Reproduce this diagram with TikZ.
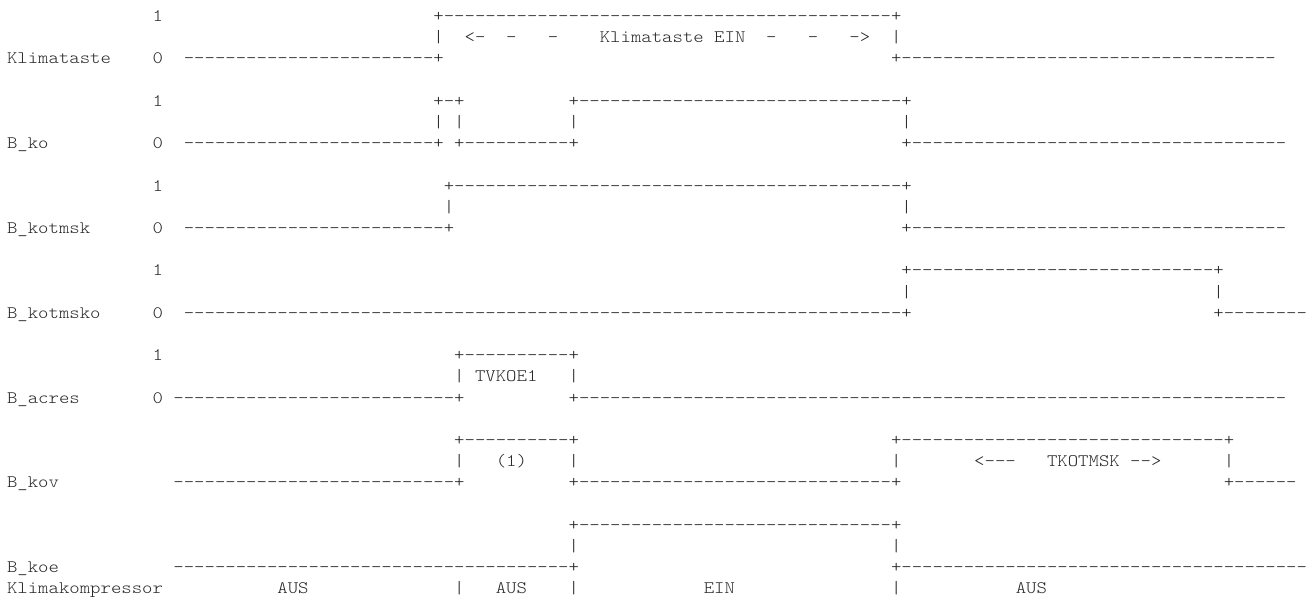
\documentclass[tikz,border=0pt]{standalone}
\usepackage{fontspec}
\newfontfamily\asc{lmmonolt10-regular}[Extension=.otf,FakeStretch=1.132]
\ExplSyntaxOn
\cs_new:Npn \dsh #1 {\prg_replicate:nn{#1}{-}}
\ExplSyntaxOff
\tikzset{asc/.style={anchor=base west, inner sep=0pt, outer sep=0pt,
  font=\asc\fontsize{17.5}{20}\selectfont, text=black!85}}
% #1 name, #2 row, #3 column, #4 text
\newcommand\txt[4]{\node[asc] (#1) at ({7+10.4*#3},{21.4+21.2*#2}) {#4};}
\begin{document}
\begin{tikzpicture}[x=1pt,y=-1pt]
\useasboundingbox (0,0) rectangle (1310,600);
% Klimataste
\txt{kt1}{0}{14}{1}
\txt{kthi}{0}{41}{+\dsh{43}+}
\txt{ktl}{1}{41}{|}
\txt{ktal}{1}{44}{<-}
\txt{ktda}{1}{48}{-}
\txt{ktdb}{1}{52}{-}
\txt{ktn}{1}{57}{Klimataste}
\txt{kte}{1}{68}{EIN}
\txt{ktdc}{1}{73}{-}
\txt{ktdd}{1}{77}{-}
\txt{ktar}{1}{81}{->}
\txt{ktr}{1}{85}{|}
\txt{ktlab}{2}{0}{Klimataste}
\txt{kt0}{2}{14}{0}
\txt{ktloa}{2}{17}{\dsh{24}+}
\txt{ktlob}{2}{85}{+\dsh{36}}
% B_ko
\txt{ko1}{4}{14}{1}
\txt{kohia}{4}{41}{+-+}
\txt{kohib}{4}{54}{+\dsh{31}+}
\txt{kova}{5}{41}{|}
\txt{kovb}{5}{43}{|}
\txt{kovc}{5}{54}{|}
\txt{kovd}{5}{86}{|}
\txt{kolab}{6}{0}{B\_ko}
\txt{ko0}{6}{14}{0}
\txt{koloa}{6}{17}{\dsh{24}+}
\txt{kolob}{6}{43}{+\dsh{10}+}
\txt{koloc}{6}{86}{+\dsh{36}}
% B_kotmsk
\txt{tm1}{8}{14}{1}
\txt{tmhi}{8}{42}{+\dsh{43}+}
\txt{tmva}{9}{42}{|}
\txt{tmvb}{9}{86}{|}
\txt{tmlab}{10}{0}{B\_kotmsk}
\txt{tm0}{10}{14}{0}
\txt{tmloa}{10}{17}{\dsh{25}+}
\txt{tmlob}{10}{86}{+\dsh{36}}
% B_kotmsko
\txt{to1}{12}{14}{1}
\txt{tohi}{12}{86}{+\dsh{29}+}
\txt{tova}{13}{86}{|}
\txt{tovb}{13}{116}{|}
\txt{tolab}{14}{0}{B\_kotmsko}
\txt{to0}{14}{14}{0}
\txt{toloa}{14}{17}{\dsh{69}+}
\txt{tolob}{14}{116}{+\dsh{8}}
% B_acres
\txt{ac1}{16}{14}{1}
\txt{achi}{16}{43}{+\dsh{10}+}
\txt{acva}{17}{43}{|}
\txt{acname}{17}{45}{TVKOE1}
\txt{acvb}{17}{54}{|}
\txt{aclab}{18}{0}{B\_acres}
\txt{ac0}{18}{14}{0}
\txt{acloa}{18}{16}{\dsh{27}+}
\txt{aclob}{18}{54}{+\dsh{68}}
% B_kov
\txt{kvhia}{20}{43}{+\dsh{10}+}
\txt{kvhib}{20}{85}{+\dsh{31}+}
\txt{kvva}{21}{43}{|}
\txt{kvone}{21}{47}{(1)}
\txt{kvvb}{21}{54}{|}
\txt{kvvc}{21}{85}{|}
\txt{kval}{21}{93}{<---}
\txt{kvname}{21}{100}{TKOTMSK}
\txt{kvar}{21}{108}{-->}
\txt{kvvd}{21}{117}{|}
\txt{kvlab}{22}{0}{B\_kov}
\txt{kvloa}{22}{16}{\dsh{27}+}
\txt{kvlob}{22}{54}{+\dsh{30}+}
\txt{kvloc}{22}{117}{+\dsh{6}}
% B_koe
\txt{kehi}{24}{54}{+\dsh{30}+}
\txt{keva}{25}{54}{|}
\txt{kevb}{25}{85}{|}
\txt{kelab}{26}{0}{B\_koe}
\txt{keloa}{26}{16}{\dsh{38}+}
\txt{kelob}{26}{85}{+\dsh{39}}
% Klimakompressor
\txt{kklab}{27}{0}{Klimakompressor}
\txt{kka}{27}{26}{AUS}
\txt{kkva}{27}{43}{|}
\txt{kkb}{27}{47}{AUS}
\txt{kkvb}{27}{54}{|}
\txt{kkc}{27}{67}{EIN}
\txt{kkvc}{27}{85}{|}
\txt{kkd}{27}{97}{AUS}
\end{tikzpicture}
\end{document}
